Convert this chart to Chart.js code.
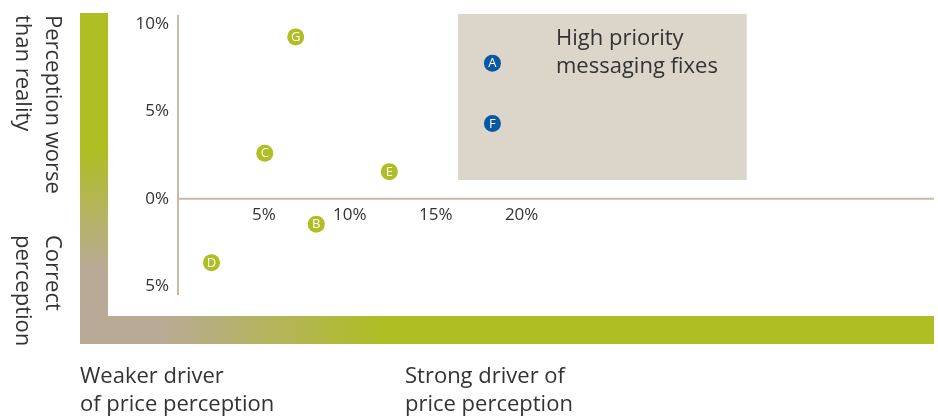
<!DOCTYPE html>
<html>
<head>
<meta charset="utf-8">
<script src="https://cdn.jsdelivr.net/npm/chart.js@4.4.1/dist/chart.umd.min.js"></script>
<style>
  html, body { margin: 0; padding: 0; background: #ffffff; overflow: hidden; }
  #wrap { position: relative; width: 938px; height: 417px; overflow: hidden; }
  #c { position: absolute; left: 0; top: 0; }
</style>
</head>
<body>
<div id="wrap"><canvas id="c" width="950" height="417"></canvas></div>
<script>
// ---- data ----
const priorityLabels = ['A', 'F'];
const priorityDriver = [18.3, 18.3];          // x: strength as driver of price perception (%)
const priorityGap = [7.75, 4.3];              // y: perception gap (%)

const otherLabels = ['B', 'C', 'D', 'E', 'G'];
const otherDriver = [8.05, 5.05, 1.95, 12.3, 6.85];
const otherGap = [-1.45, 2.6, -3.65, 1.55, 9.25];

const xTickValues = [5, 10, 15, 20];
const xTickLabels = ['5%', '10%', '15%', '20%'];
const yTickValues = [10, 5, 0, -5];
const yTickLabels = ['10%', '5%', '0%', '5%'];

const priorityZone = { xFrom: 16.3, xTo: 33.1, yFrom: 1.07, yTo: 10.56 };
const priorityZoneText = ['High priority', 'messaging fixes'];
const leftTopText = ['Perception worse', 'than reality'];
const leftBottomText = ['Correct', 'perception'];
const bottomLeftText = ['Weaker driver', 'of price perception'];
const bottomMidText = ['Strong driver of', 'price perception'];

// ---- styles ----
const GREEN = '#afbe22';
const BLUE = '#0a57a3';
const TAN = '#b9aa97';
const AXIS = '#c7bba8';
const TEXT = '#333333';
const FONT = '"Open Sans", "DejaVu Sans", sans-serif';

function toPoints(xs, ys) { return xs.map((x, i) => ({ x: x, y: ys[i] })); }

const decorPlugin = {
  id: 'decor',
  beforeDatasetsDraw(chart) {
    const ctx = chart.ctx;
    const xs = chart.scales.x, ys = chart.scales.y;
    const area = chart.chartArea;
    ctx.save();
    // L-shaped gradient bars
    let g = ctx.createLinearGradient(0, 13, 0, 344);
    g.addColorStop(0, GREEN);
    g.addColorStop(0.41, GREEN);
    g.addColorStop(0.78, TAN);
    g.addColorStop(1, TAN);
    ctx.fillStyle = g;
    ctx.fillRect(80, 13, 28, 331);
    g = ctx.createLinearGradient(80, 0, 934, 0);
    g.addColorStop(0, TAN);
    g.addColorStop(0.09, TAN);
    g.addColorStop(0.36, GREEN);
    g.addColorStop(1, GREEN);
    ctx.fillStyle = g;
    ctx.fillRect(80, 316, 854, 28);

    // priority zone
    const bx0 = xs.getPixelForValue(priorityZone.xFrom);
    const bx1 = xs.getPixelForValue(priorityZone.xTo);
    const by0 = ys.getPixelForValue(priorityZone.yTo);
    const by1 = ys.getPixelForValue(priorityZone.yFrom);
    ctx.fillStyle = '#dbd5ca';
    ctx.fillRect(bx0, by0, bx1 - bx0, by1 - by0);
    ctx.fillStyle = TEXT;
    ctx.font = '22px ' + FONT;
    ctx.textAlign = 'left';
    ctx.textBaseline = 'alphabetic';
    ctx.fillText(priorityZoneText[0], 556, 45);
    ctx.fillText(priorityZoneText[1], 556, 73);

    // axes lines
    const y0 = ys.getPixelForValue(0);
    const x0 = xs.getPixelForValue(0);
    ctx.strokeStyle = AXIS;
    ctx.lineWidth = 2;
    ctx.beginPath();
    ctx.moveTo(x0, y0);
    ctx.lineTo(area.right, y0);
    ctx.moveTo(x0, area.top);
    ctx.lineTo(x0, area.bottom);
    ctx.stroke();

    // tick labels
    ctx.fillStyle = TEXT;
    ctx.font = '17px ' + FONT;
    ctx.textAlign = 'right';
    ctx.textBaseline = 'middle';
    yTickValues.forEach((v, i) => ctx.fillText(yTickLabels[i], x0 - 9, ys.getPixelForValue(v)));
    ctx.textAlign = 'center';
    xTickValues.forEach((v, i) => ctx.fillText(xTickLabels[i], xs.getPixelForValue(v), y0 + 16));

    // side / bottom captions
    ctx.font = '22px ' + FONT;
    ctx.textBaseline = 'alphabetic';
    ctx.textAlign = 'left';
    const rot = (txt, x, y) => { ctx.save(); ctx.translate(x, y); ctx.rotate(Math.PI / 2); ctx.fillText(txt, 0, 0); ctx.restore(); };
    rot(leftTopText[0], 46, 15);
    rot(leftTopText[1], 16, 15);
    rot(leftBottomText[0], 46, 235);
    rot(leftBottomText[1], 16, 235);
    ctx.fillText(bottomLeftText[0], 80, 383);
    ctx.fillText(bottomLeftText[1], 80, 411);
    ctx.fillText(bottomMidText[0], 405, 383);
    ctx.fillText(bottomMidText[1], 405, 411);
    ctx.restore();
  },
  afterDatasetsDraw(chart) {
    const ctx = chart.ctx;
    ctx.save();
    ctx.fillStyle = '#ffffff';
    ctx.font = '13px ' + FONT;
    ctx.textAlign = 'center';
    ctx.textBaseline = 'middle';
    chart.data.datasets.forEach((ds, di) => {
      const meta = chart.getDatasetMeta(di);
      meta.data.forEach((el, i) => ctx.fillText(ds.pointLabels[i], el.x, el.y + 0.5));
    });
    ctx.restore();
  }
};

new Chart(document.getElementById('c'), {
  type: 'scatter',
  data: {
    datasets: [
      { label: 'High priority', data: toPoints(priorityDriver, priorityGap), pointLabels: priorityLabels,
        backgroundColor: BLUE, pointRadius: 8.5, pointHoverRadius: 8.5, borderWidth: 0 },
      { label: 'Other', data: toPoints(otherDriver, otherGap), pointLabels: otherLabels,
        backgroundColor: GREEN, pointRadius: 8.5, pointHoverRadius: 8.5, borderWidth: 0 }
    ]
  },
  options: {
    responsive: false,
    animation: false,
    devicePixelRatio: 1,
    layout: { padding: { left: 178, right: 16, top: 15, bottom: 122 } },
    plugins: { legend: { display: false }, tooltip: { enabled: false } },
    scales: {
      x: { type: 'linear', min: 0, max: 44, display: false },
      y: { type: 'linear', min: -5.5, max: 10.5, display: false }
    }
  },
  plugins: [decorPlugin]
});
</script>
</body>
</html>
